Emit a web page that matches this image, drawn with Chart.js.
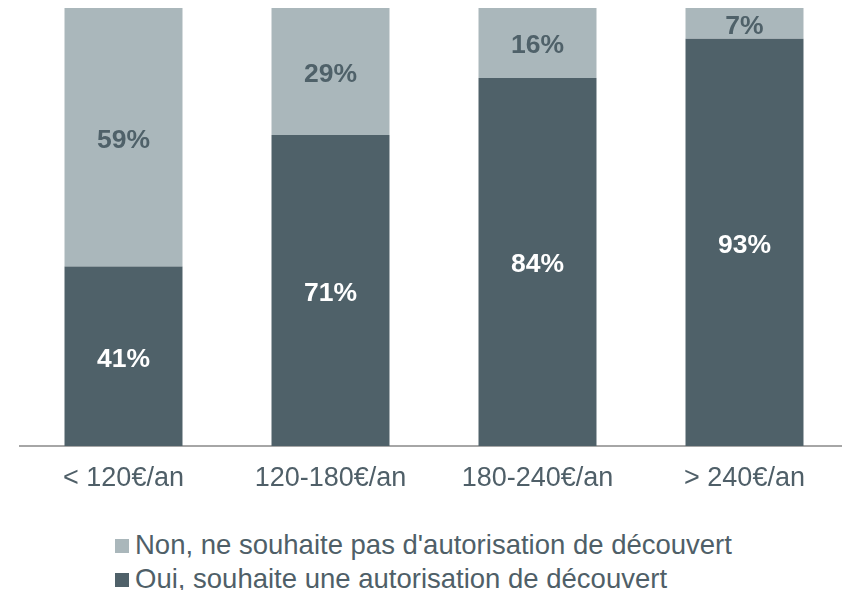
<!DOCTYPE html>
<html>
<head>
<meta charset="utf-8">
<script src="https://cdn.jsdelivr.net/npm/chart.js@4"></script>
<style>
  html, body { margin: 0; padding: 0; background: #fff; overflow: hidden; }
  #wrap { position: absolute; left: 0; top: 0; width: 856px; height: 520px; }
  #legend {
    position: absolute; left: 115px; top: 528px;
    font-family: "Liberation Sans", Arial, sans-serif; font-size: 27.5px; color: #4f5f68;
  }
  #legend div { height: 34px; line-height: 34px; white-space: nowrap; }
  #legend span.box { display: inline-block; width: 14px; height: 14px; margin-right: 6px; vertical-align: 1px; }
</style>
</head>
<body>
<div id="wrap"><canvas id="chart"></canvas></div>
<div id="legend"></div>
<script>
const categories = ['< 120€/an', '120-180€/an', '180-240€/an', '> 240€/an'];
const ouiValues = [41, 71, 84, 93];
const nonValues = [59, 29, 16, 7];
const ouiLabel = 'Oui, souhaite une autorisation de découvert';
const nonLabel = "Non, ne souhaite pas d'autorisation de découvert";

const dark = '#4f6169';
const light = '#aab7bb';

/* ---------- BAR VALUE LABELS ---------- */
const valueLabels = {
    id: 'valueLabels',
    afterDatasetsDraw(chart) {
        const ctx = chart.ctx;
        ctx.save();
        ctx.font = 'bold 26.5px "Liberation Sans", Arial, sans-serif';
        ctx.textAlign = 'center';
        ctx.textBaseline = 'middle';
        chart.data.datasets.forEach((ds, i) => {
            chart.getDatasetMeta(i).data.forEach((bar, j) => {
                ctx.fillStyle = ds.labelColor;
                ctx.fillText(ds.data[j] + '%', bar.x, (bar.y + bar.base) / 2 + 3);
            });
        });
        ctx.restore();
    }
};

new Chart(document.getElementById('chart'), {
    type: 'bar',
    plugins: [valueLabels],
    data: {
        labels: categories,
        datasets: [
            { label: ouiLabel, data: ouiValues, backgroundColor: dark, labelColor: '#ffffff' },
            { label: nonLabel, data: nonValues, backgroundColor: light, labelColor: dark }
        ]
    },
    options: {
        responsive: true,
        maintainAspectRatio: false,
        animation: false,
        datasets: { bar: { barPercentage: 0.57, categoryPercentage: 1 } },
        layout: { padding: { left: 20, right: 8, top: 8, bottom: 0 } },
        plugins: { legend: { display: false }, tooltip: { enabled: false } },
        scales: {
            x: {
                stacked: true,
                grid: { display: false, drawTicks: false },
                border: { display: true, color: '#a6a6a6', width: 2 },
                ticks: {
                    color: '#4f5f68',
                    padding: 16,
                    font: { family: '"Liberation Sans", Arial, sans-serif', size: 27 }
                },
                afterFit(scale) { scale.height = 74; }
            },
            y: {
                stacked: true,
                display: false,
                min: 0,
                max: 100
            }
        }
    }
});

// legend, Non first
const legendEl = document.getElementById('legend');
[[nonLabel, light], [ouiLabel, dark]].forEach(([text, color]) => {
    const row = document.createElement('div');
    row.innerHTML = `<span class="box" style="background:${color}"></span>${text}`;
    legendEl.appendChild(row);
});
</script>
</body>
</html>
